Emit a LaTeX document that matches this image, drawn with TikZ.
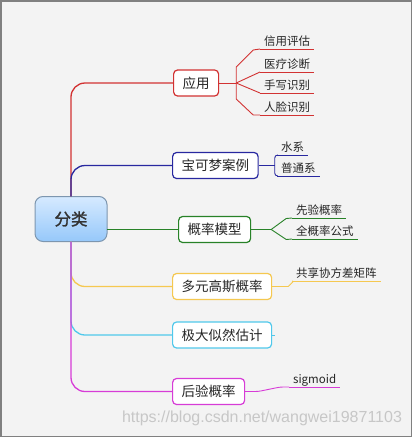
\documentclass[tikz,border=0pt]{standalone}
\usepackage{fontspec}
\newfontfamily\cjk{Noto Sans CJK SC}
\newfontfamily\cjkbold[FakeBold=1.5]{Noto Sans CJK SC}
\newfontfamily\markfont{Liberation Sans}
\tikzset{
  branch/.style={
    line width=1.3pt,
    line cap=round,
    rounded corners=14pt
  },
  twig/.style={line width=0.9pt, line join=round},
  root-box/.style={draw=rootedge, line width=1pt, rounded corners=8pt, top color=roottop, bottom color=rootbottom, minimum width=72pt, minimum height=45pt, font=\cjkbold\fontsize{16.5}{18}\selectfont, text=black!80},
  topic-box/.style={fill=white, line width=1.2pt, rounded corners=4pt, minimum height=26pt, inner xsep=9pt, inner ysep=0pt, anchor=west, font=\cjk\fontsize{13.5}{16}\selectfont, text=black!85},
  sub-label/.style={inner xsep=4pt, inner ysep=0pt, text depth=3pt, anchor=south west, font=\cjk\fontsize{11.5}{13}\selectfont, text=black!85}
}
\definecolor{canvas}{RGB}{243,243,243}
\definecolor{frame}{RGB}{128,128,128}
\definecolor{roottop}{RGB}{214,234,255}
\definecolor{rootbottom}{RGB}{150,200,250}
\definecolor{rootedge}{RGB}{125,150,175}
\definecolor{branchred}{RGB}{210,50,50}
\definecolor{branchnavy}{RGB}{40,40,160}
\definecolor{branchgreen}{RGB}{40,130,40}
\definecolor{branchgold}{RGB}{245,200,80}
\definecolor{branchcyan}{RGB}{80,200,235}
\definecolor{branchpink}{RGB}{215,60,215}

\begin{document}
\begin{tikzpicture}[x=1pt,y=-1pt]
  \path[fill=canvas, draw=frame, line width=1.5pt] (0.75,0.75) rectangle (411.25,436.25);
  \useasboundingbox (0,0) rectangle (412,437);

  % central topic
  \node[root-box] (root) at (71,219) {分类};

  % main topics
  \node[topic-box, draw=branchred] (apps) at (173,83) {应用};
  \node[topic-box, draw=branchnavy] (pokemon) at (172,165.5) {宝可梦案例};
  \node[topic-box, draw=branchgreen] (model) at (178,229.5) {概率模型};
  \node[topic-box, draw=branchgold] (gauss) at (172,286.5) {多元高斯概率};
  \node[topic-box, draw=branchcyan] (mle) at (172,335) {极大似然估计};
  \node[topic-box, draw=branchpink] (post) at (172,391.5) {后验概率};

  % branches, the last one drawn stays on top of the trunk
  \draw[branch, branchred] (root.north) |- (apps.west);
  \draw[branch, branchnavy] (root.north) |- (pokemon.west);
  \draw[branch, branchgreen] (root.east |- model.west) -- (model.west);
  \draw[branch, branchgold] (root.south) |- (gauss.west);
  \draw[branch, branchcyan] (root.south) |- (mle.west);
  \draw[branch, branchpink] (root.south) |- (post.west);

  % sub topics, placed at the start of their underline
  \foreach \name/\x/\y/\col/\txt in {
      credit/260/49/branchred/信用评估,
      medical/260/72/branchred/医疗诊断,
      hand/260/93/branchred/手写识别,
      face/260/115/branchred/人脸识别,
      water/277/155/branchnavy/水系,
      normal/277/176/branchnavy/普通系,
      prior/292/218/branchgreen/先验概率,
      total/292/239/branchgreen/全概率公式,
      shared/292/281/branchgold/共享协方差矩阵,
      sigmoid/289/387/branchpink/sigmoid}{
    \node[sub-label] (\name) at (\x,\y) {\txt};
    \draw[twig, \col] (\name.south west) -- (\name.south east);
  }

  % forks
  \draw[twig, branchred] (apps.east) -- ++(17,0) coordinate (apps-fork);
  \draw[twig, branchred] (apps-fork) -- ++(0,-16) -- ++(17,-17) -- (credit.south west);
  \draw[twig, branchred] (apps-fork) -- (medical.south west);
  \draw[twig, branchred] (apps-fork) -- (hand.south west);
  \draw[twig, branchred] (apps-fork) -- ++(0,16) -- ++(17,16) -- (face.south west);

  \draw[twig, branchnavy] (pokemon.east) -- ++(16,0) coordinate (pokemon-fork);
  \draw[twig, branchnavy, rounded corners=3pt] (pokemon-fork) |- (water.south west);
  \draw[twig, branchnavy, rounded corners=3pt] (pokemon-fork) |- (normal.south west);

  \draw[twig, branchgreen] (model.east) -- ++(20,0) coordinate (model-fork);
  \draw[twig, branchgreen] (model-fork) -- ++(15,-11) -- (prior.south west);
  \draw[twig, branchgreen] (model-fork) -- ++(15,10) -- (total.south west);

  \draw[twig, branchgold] (gauss.east) -- ++(16,0) -- ++(5,-5) -- (shared.south west);
  \draw[twig, branchcyan] (mle.east) -- ++(3,0);
  \draw[twig, branchpink, rounded corners=3pt] (post.east) -- ++(13,0) -- ++(22,-4.5) -- (sigmoid.south west);

  % watermark
  \node[font=\markfont\fontsize{16}{18}\selectfont, text=black!22] (mark) at (262,418) {https://blog.csdn.net/wangwei19871103};
\end{tikzpicture}
\end{document}
